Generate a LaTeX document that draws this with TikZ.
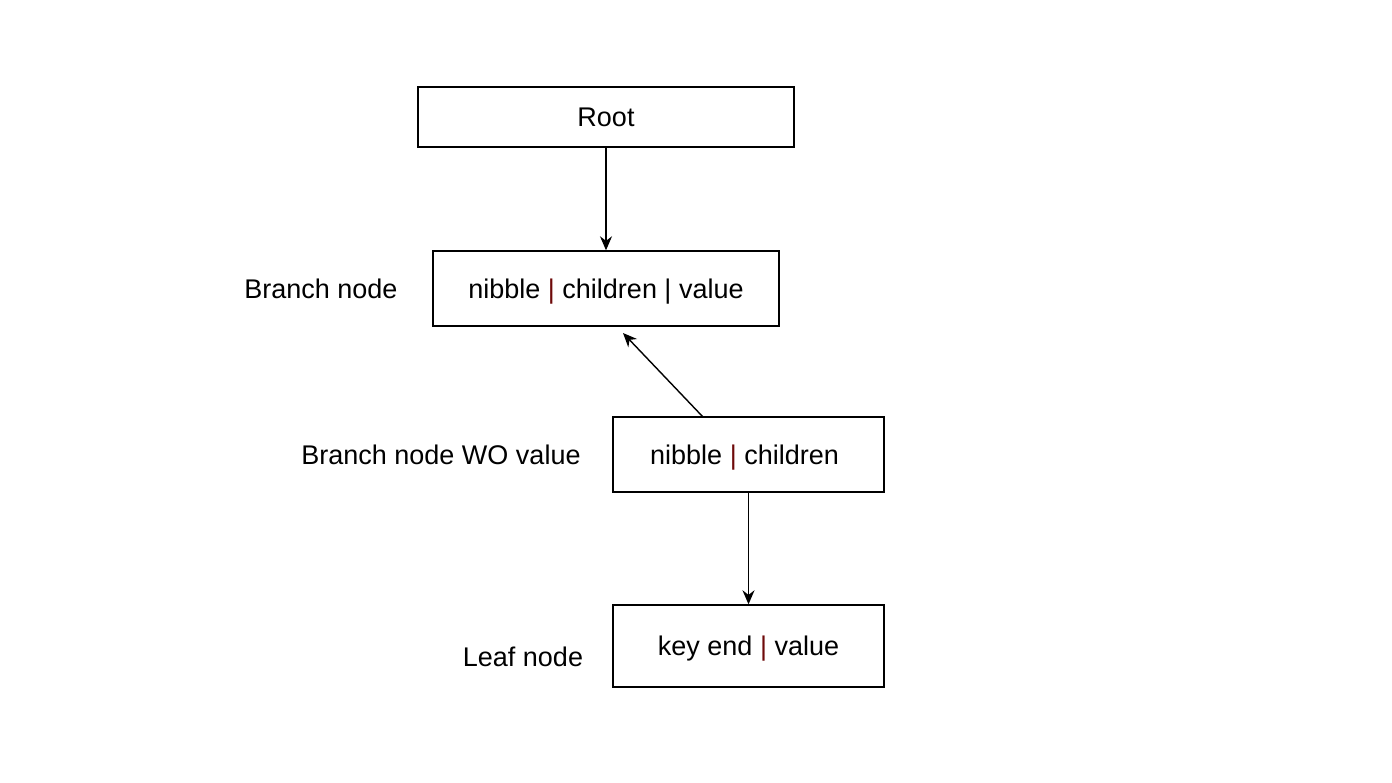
\documentclass[tikz,border=0pt]{standalone}
\usepackage{fontspec}
\setmainfont{Liberation Sans}
\usetikzlibrary{arrows.meta}
\definecolor{pipered}{HTML}{6E0A0A}
\newcommand{\rp}{\textcolor{pipered}{|}}
\begin{document}
\begin{tikzpicture}[x=0.5pt,y=-0.5pt,
  box/.style={draw=black,line width=0.7pt,inner sep=0pt,text height=9.7pt,text depth=0pt,font=\fontsize{13.5}{16}\selectfont},
  lbl/.style={inner sep=0pt,text height=9.7pt,text depth=0pt,font=\fontsize{13.5}{16}\selectfont},
  conn/.style={draw=black,line width=0.7pt,-{Stealth[length=7pt,width=6pt]}}]
\useasboundingbox (0,0) rectangle (1392,782);
\node[box,minimum width=188pt,minimum height=30pt] (root) at (606,117) {Root};
\node[box,minimum width=173pt,minimum height=37.5pt] (branch) at (606,288.5) {nibble \rp{} children | value};
\node[box,minimum width=135.5pt,minimum height=37.5pt] (wo) at (748.5,454.5) {\hspace{-4pt}nibble \rp{} children};
\node[box,minimum width=135.5pt,minimum height=41pt] (leaf) at (748.5,646) {key end \rp{} value};
\node[lbl] (lb1) at (321,289) {Branch node};
\node[lbl] (lb2) at (441,455) {Branch node WO value};
\node[lbl] (lb3) at (523,657) {Leaf node};
\coordinate (wostart) at (703,417);
\coordinate (woend) at (623,333);
\draw[conn] (root.south) -- (branch.north);
\draw[conn] (wostart) -- (woend);
\draw[conn] (wo.south) -- (leaf.north);
\end{tikzpicture}
\end{document}
